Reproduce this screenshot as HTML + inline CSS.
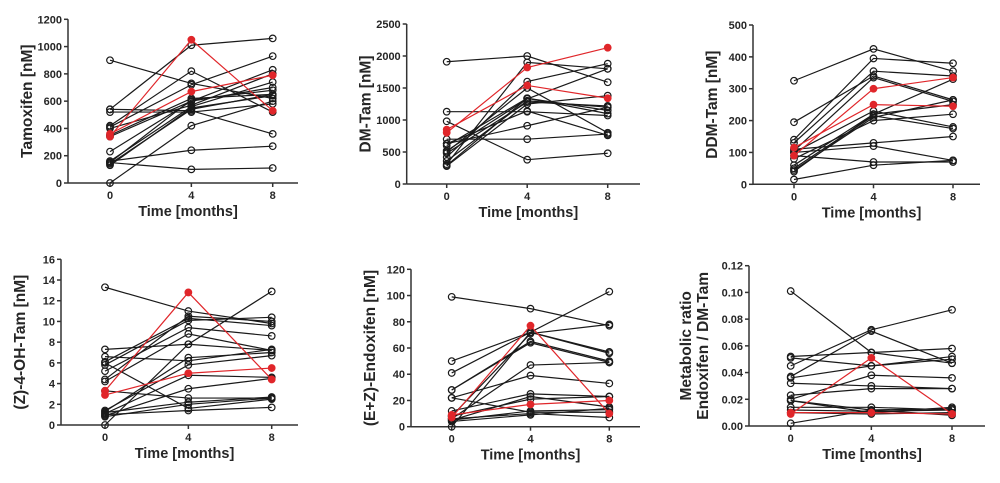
<!DOCTYPE html>
<html><head><meta charset="utf-8"><style>
body{margin:0;background:#fff;width:1000px;height:483px;overflow:hidden}
svg{display:block}
text{font-family:"Liberation Sans",sans-serif;font-weight:bold;fill:#262626}
</style></head><body>
<svg id="chart" width="1000" height="483" viewBox="0 0 1000 483"></svg>
<script>
const timeTicks=[0,4,8];
const tamRed=[[340,1050,530],[360,670,790]];
const tamBlack=[[900,730,620],[540,1010,1060],[540,530,360],[520,520,580],[420,820,520],[410,720,930],[340,600,830],[230,600,700],[160,240,270],[150,100,110],[140,540,650],[160,560,740],[150,610,680],[130,550,640],[0,420,600],[350,620,650],[400,570,800]];
const dmRed=[[800,1820,2130],[850,1540,1340]];
const dmBlack=[[1910,2000,1590],[1130,1130,1070],[980,380,480],[700,700,780],[630,910,1200],[630,1140,760],[520,1330,1800],[480,1280,1220],[420,1600,1880],[360,1300,1200],[310,1900,1800],[280,1250,1380],[290,1340,1100],[500,1500,800],[600,1340,1150]];
const ddmRed=[[90,300,335],[115,250,245]];
const ddmBlack=[[325,425,355],[195,340,265],[140,395,380],[130,355,340],[110,130,150],[100,120,75],[90,70,70],[50,215,175],[45,210,265],[40,220,330],[15,60,75],[80,200,220],[100,230,180],[105,335,260],[60,220,250]];
const ohRed=[[3.3,12.8,4.4],[2.9,5.0,5.5]];
const ohBlack=[[13.3,11.0,9.8],[7.3,7.8,7.2],[6.6,6.2,7.3],[6.1,10.3,9.6],[6.0,1.6,2.5],[5.8,10.1,10.4],[5.2,9.4,8.6],[4.4,10.5,10.0],[4.2,8.8,7.2],[3.3,2.6,2.6],[1.4,5.8,6.7],[1.2,2.2,2.7],[1.0,1.4,1.7],[0.9,3.5,4.5],[1.1,4.8,4.6],[0,7.8,12.9],[1.3,6.5,7.0],[0.8,2.0,2.6]];
const endRed=[[7,77,10],[9,17,20]];
const endBlack=[[99,90,77],[50,72,57],[41,72,56],[28,65,50],[28,64,49],[22,39,33],[22,11,11],[12,25,23],[8,71,78],[6,47,49],[5,23,15],[5,12,13],[0,72,103],[8,21,23],[6,10,7],[4,9,14]];
const ratioRed=[[0.009,0.051,0.009],[0.010,0.010,0.009]];
const ratioBlack=[[0.101,0.055,0.047],[0.052,0.055,0.058],[0.051,0.045,0.052],[0.045,0.072,0.087],[0.037,0.071,0.047],[0.036,0.045,0.050],[0.032,0.030,0.028],[0.023,0.028,0.028],[0.020,0.038,0.036],[0.019,0.010,0.014],[0.014,0.014,0.012],[0.012,0.011,0.012],[0.010,0.009,0.010],[0.002,0.012,0.008],[0.019,0.012,0.013]];
const tamTicks=["0","200","400","600","800","1000","1200"];
const dmTicks=["0","500","1000","1500","2000","2500"];
const ddmTicks=["0","100","200","300","400","500"];
const ohTicks=["0","2","4","6","8","10","12","14","16"];
const endTicks=["0","20","40","60","80","100","120"];
const ratioTicks=["0.00","0.02","0.04","0.06","0.08","0.10","0.12"];

const NS="http://www.w3.org/2000/svg";
const svg=document.getElementById('chart');
function mk(tag,attrs,parent){const e=document.createElementNS(NS,tag);for(const k in attrs)e.setAttribute(k,attrs[k]);(parent||svg).appendChild(e);return e;}

const panels=[
 {name:'tamoxifen',ax:68,x0:110,x8:272.7,xe:298,y0:183,yt:19.3,ticks:tamTicks,red:tamRed,black:tamBlack,title:['Tamoxifen [nM]']},
 {name:'dm-tam',ax:406.7,x0:446.7,x8:607.7,xe:640,y0:184,yt:24,ticks:dmTicks,red:dmRed,black:dmBlack,title:['DM-Tam [nM]']},
 {name:'ddm-tam',ax:753,x0:794,x8:953,xe:980,y0:184.3,yt:25,ticks:ddmTicks,red:ddmRed,black:ddmBlack,title:['DDM-Tam [nM]']},
 {name:'oh-tam',ax:61,x0:105,x8:271.7,xe:298,y0:425,yt:259.3,ticks:ohTicks,red:ohRed,black:ohBlack,title:['(Z)-4-OH-Tam [nM]']},
 {name:'endoxifen',ax:411,x0:451.7,x8:609.3,xe:640,y0:426.7,yt:269.3,ticks:endTicks,red:endRed,black:endBlack,title:['(E+Z)-Endoxifen [nM]']},
 {name:'metabolic-ratio',ax:749,x0:790.7,x8:952,xe:985,y0:426,yt:265.7,ticks:ratioTicks,red:ratioRed,black:ratioBlack,title:['Metabolic ratio','Endoxifen / DM-Tam']}
];

panels.forEach(p=>{
 const g=mk('g',{});
 
 
 const ymax=parseFloat(p.ticks[p.ticks.length-1]);
 const sx=t=>p.x0+(t-timeTicks[0])/(timeTicks[2]-timeTicks[0])*(p.x8-p.x0);
 const sy=v=>p.y0-v/ymax*(p.y0-p.yt);
 const ya=mk('line',{x1:p.ax,y1:p.y0,x2:p.ax,y2:p.yt,stroke:'#333','stroke-width':1.5},g);
 
 const xa=mk('line',{x1:p.ax,y1:p.y0,x2:p.xe,y2:p.y0,stroke:'#333','stroke-width':1.5},g);
 
 p.ticks.forEach(t=>{
  const y=sy(parseFloat(t));
  mk('line',{x1:p.ax-4,y1:y,x2:p.ax,y2:y,stroke:'#333','stroke-width':1.5},g);
  const tx=mk('text',{x:p.ax-6,y:y+4,'text-anchor':'end','font-size':11},g);
  tx.textContent=t;
  
 });
 timeTicks.forEach(t=>{
  const x=sx(t);
  mk('line',{x1:x,y1:p.y0,x2:x,y2:p.y0+4,stroke:'#333','stroke-width':1.5},g);
  const tx=mk('text',{x:x,y:p.y0+16,'text-anchor':'middle','font-size':11},g);
  tx.textContent=String(t);
  
 });
 const xt=mk('text',{x:(p.ax+p.xe)/2+5,y:p.y0+33,'text-anchor':'middle','font-size':14.5},g);
 xt.textContent='Time [months]';
 
 const ym=(p.y0+p.yt)/2;
 p.title.forEach((s,i)=>{
  const off=p.title.length===1?-41:(i===0?-63:-46);
  const tt=mk('text',{x:0,y:0,'text-anchor':'middle','font-size':15.5,transform:`translate(${p.ax+off+5},${ym}) rotate(-90)`},g);
  tt.textContent=s;
  
 });
 const draw=(arr,col,fill,nm)=>arr.forEach(s=>{
  const pl=mk('polyline',{points:s.map((v,i)=>sx(timeTicks[i])+','+sy(v)).join(' '),fill:'none',stroke:col,'stroke-width':1.2},g);
  
  s.forEach((v,i)=>{
   const c=mk('circle',{cx:sx(timeTicks[i]),cy:sy(v),r:3.3,fill:fill,stroke:col,'stroke-width':1.2},g);
   
  });
 });
 draw(p.black,'#1a1a1a','none','patient');
 draw(p.red,'#e0262a','#e0262a','highlight-patient');
});
</script>
</body></html>
